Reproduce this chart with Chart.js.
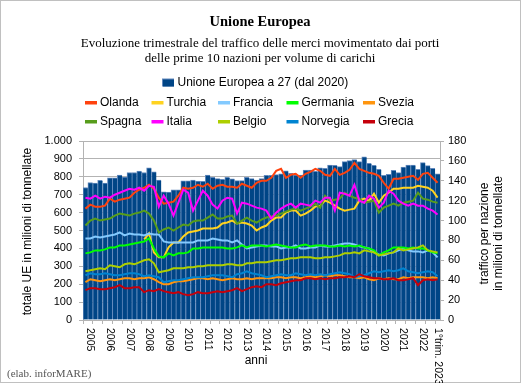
<!DOCTYPE html>
<html>
<head>
<meta charset="utf-8">
<script src="https://cdn.jsdelivr.net/npm/chart.js@4/dist/chart.umd.min.js"></script>
<style>
  html, body { margin: 0; padding: 0; background: #fff; }
  #wrap { width: 521px; height: 383px; position: relative; }
</style>
</head>
<body>
<div id="wrap"><canvas id="c" width="521" height="383"></canvas></div>
<script>
// ---- Data ----
const years = ['2005','2006','2007','2008','2009','2010','2011','2012','2013','2014','2015','2016','2017','2018','2019','2020','2021','2022'];
const lastPeriod = '1°trim. 2023';

// Total EU-27 (left axis, millions of tonnes), quarterly 2005 Q1 .. 2023 Q1
const ueTotal = [740,768,765,780, 765,794,794,809, 798,824,824,832, 824,850,828,781, 716,714,727,727,
  778,778,781,776, 775,810,797,790, 786,797,788,779, 779,797,790,782, 790,808,808,812,
  816,834,819,810, 810,838,838,831, 850,847,866,864, 857,885,890,896, 885,911,875,864,
  842,808,814,836, 823,855,866,866, 842,879,862,847, 817];

// Countries (right axis, millions of tonnes)
const olanda = [112,116,114,114, 115,122,119,121, 122,123,128,131, 133,136,132,123, 117,118,119,125,
  133,132,133,136, 134,137,132,135, 136,134,134,133, 137,135,133,138, 140,140,143,150,
  152,143,146,147, 143,147,149,152, 150,146,145,152, 146,148,151,158, 152,150,148,147,
  145,138,132,142, 142,143,144,145, 141,147,148,143, 138];
const turchia = [null,null,null,null, null,null,null,null, null,null,null,null, 81,87,68,63, 63,73,78,78,
  84,88,89,90, 92,92,92,93, 97,98,100,97, 98,97,95,90, 93,95,100,103,
  103,108,110,110, 105,107,110,114, 115,120,118,115, 112,110,111,112, 120,122,120,127,
  118,125,128,132, 132,133,133,133, 135,134,133,130, 123];
const francia = [82,82,84,83, 84,85,86,88, 85,87,86,86, 85,87,86,86, 79,78,78,78,
  78,78,78,80, 80,80,82,81, 80,80,78,80, 76,72,73,74, 75,75,74,74,
  72,73,73,75, 72,72,73,73, 75,74,74,75, 76,77,77,76, 74,73,72,68,
  66,65,67,68, 70,72,70,69, 69,68,70,68, 63];
const germania = [67,68,70,70, 71,73,73,75, 75,76,77,78, 79,82,72,64, 63,67,65,67,
  67,68,72,72, 73,73,73,73, 73,72,72,73, 75,73,75,75, 75,74,75,76,
  75,74,73,73, 75,76,74,75, 75,75,74,74, 75,74,75,74, 75,73,72,70,
  65,68,70,73, 73,73,72,73, 72,72,70,68, 67];
const svezia = [38,41,40,39, 40,41,40,41, 42,42,41,42, 42,43,41,38, 36,36,38,39,
  39,40,41,42, 42,41,42,41, 40,41,42,41, 41,42,41,42, 42,42,42,43,
  43,42,43,43, 42,43,44,43, 44,45,44,45, 45,44,43,43, 42,43,41,40,
  42,41,42,41, 41,43,42,43, 43,43,42,43, 42];
const spagna = [95,100,102,100, 101,102,105,107, 106,105,107,108, 110,107,100,88, 91,93,90,93,
  96,95,99,100, 100,103,106,102, 102,104,105,97, 100,103,100,98, 101,103,104,105,
  107,109,111,112, 110,112,114,117, 113,125,120,121, 122,128,125,123, 122,118,119,120,
  108,113,115,117, 115,118,119,120, 128,122,121,119, 118];
const italia = [123,122,125,122, 124,123,126,128, 130,132,131,133, 130,135,134,114, 125,117,105,118,
  131,128,110,120, 130,125,116,112, 120,123,122,107, 118,117,115,113, 112,110,102,108,
  112,115,117,113, 117,116,115,120, 118,123,123,110, 128,127,125,136, 120,118,125,122,
  113,118,130,127, 120,117,115,117, 115,115,112,110, 106];
const belgio = [49,50,51,52, 51,55,54,53, 56,57,56,58, 60,61,57,48, 49,50,52,52,
  52,53,53,54, 54,55,55,55, 55,56,56,55, 55,57,57,58, 58,58,59,60,
  60,61,62,62, 63,63,63,62, 62,63,63,64, 65,67,67,68, 67,70,69,68,
  65,66,67,68, 72,70,71,72, 73,75,70,69, 68];
const norvegia = [45,47,46,46, 47,46,45,45, 46,47,47,46, 44,45,44,43, 38,39,40,40,
  41,42,43,43, 43,44,45,45, 45,44,43,46, 47,49,47,46, 45,43,44,45,
  46,45,45,47, 46,45,46,45, 46,45,46,47, 48,47,46,43, 44,45,47,49,
  48,49,50,49, 50,52,49,48, 47,48,49,48, 44];
const grecia = [30,32,32,31, 31,32,33,35, 32,32,33,33, 28,30,29,31, 29,28,27,28,
  26,25,26,28, 27,27,28,29, 28,29,30,32, 29,31,33,34, 33,36,36,35,
  37,38,39,40, 40,42,42,41, 42,41,42,42, 43,43,44,43, 46,44,43,42,
  42,41,41,42, 40,40,41,42, 35,40,41,40, 41];

const leftTicksMax = 1000, leftStep = 100;
const rightTicksMax = 180, rightStep = 20;

// categories: one per quarter
const categories = [];
years.forEach(y => { for (let q = 1; q <= 4; q++) categories.push(y + ' T' + q); });
categories.push('2023 T1');
// displayed tick text (year shown at its 2nd quarter, last period at the end)
const tickText = categories.map((c, i) => {
  if (i === categories.length - 1) return lastPeriod;
  return (i % 4 === 1) ? years[Math.floor(i / 4)] : '';
});

const series = [
  ['Olanda', olanda, '#ff420e'],
  ['Turchia', turchia, '#ffd320'],
  ['Francia', francia, '#83caff'],
  ['Germania', germania, '#00ff00'],
  ['Svezia', svezia, '#ff950e'],
  ['Spagna', spagna, '#579d1c'],
  ['Italia', italia, '#ff00ff'],
  ['Belgio', belgio, '#aecf00'],
  ['Norvegia', norvegia, '#0084d1'],
  ['Grecia', grecia, '#c5000b']
];

const SANS = "'Liberation Sans', Arial, sans-serif";
const SERIF = "'Liberation Serif', 'Times New Roman', serif";
const GRID = '#b3b3b3';

function itNum(v) {
  const s = String(Math.round(v));
  return s.replace(/\B(?=(\d{3})+(?!\d))/g, '.');
}

const datasets = [{
  type: 'bar',
  label: 'Unione Europea a 27 (dal 2020)',
  data: ueTotal,
  yAxisID: 'y',
  backgroundColor: '#004586',
  borderColor: '#6289bd',
  borderWidth: { left: 1, top: 1, right: 0, bottom: 0 },
  borderSkipped: false,
  barPercentage: 1,
  categoryPercentage: 1,
  order: 1
}];
series.forEach((s, k) => datasets.push({
  type: 'line',
  label: s[0],
  data: s[1],
  yAxisID: 'y1',
  borderColor: s[2],
  backgroundColor: s[2],
  borderWidth: 2,
  pointRadius: 0,
  tension: 0,
  fill: false,
  spanGaps: false,
  order: -k - 1
}));

const deco = {
  id: 'deco',
  beforeDraw(chart) {
    const ctx = chart.ctx;
    ctx.save();
    ctx.fillStyle = '#fff';
    ctx.fillRect(0, 0, chart.width, chart.height);
    ctx.restore();
  },
  afterDraw(chart) {
    const ctx = chart.ctx;
    const area = chart.chartArea;
    const xs = chart.scales.x;
    ctx.save();
    // outer border
    ctx.strokeStyle = '#c0c0c0';
    ctx.lineWidth = 1;
    ctx.strokeRect(0.5, 0.5, chart.width - 1, chart.height - 1);

    // titles
    ctx.fillStyle = '#000';
    ctx.textAlign = 'center';
    ctx.textBaseline = 'alphabetic';
    ctx.font = 'bold 14.5px ' + SERIF;
    ctx.fillText('Unione Europea', 260, 26);
    ctx.font = '13px ' + SERIF;
    ctx.fillText('Evoluzione trimestrale del traffico delle merci movimentato dai porti', 260, 46.5);
    ctx.fillText('delle prime 10 nazioni per volume di carichi', 260, 61.5);

    // legend
    const ds = chart.data.datasets;
    ctx.font = '12px ' + SANS;
    ctx.textAlign = 'left';
    ctx.textBaseline = 'middle';
    ctx.fillStyle = '#6289bd';
    ctx.fillRect(162, 78.5, 12, 8);
    ctx.fillStyle = ds[0].backgroundColor;
    ctx.fillRect(163, 79.5, 11, 7);
    ctx.fillStyle = '#000';
    ctx.fillText(ds[0].label, 177.5, 83);
    const cols = [85, 151.5, 218, 286.5, 363];
    const rowsY = [102.5, 121.5];
    for (let k = 1; k < ds.length; k++) {
      const r = Math.floor((k - 1) / 5), c = (k - 1) % 5;
      const lx = cols[c], ly = rowsY[r];
      ctx.fillStyle = ds[k].borderColor;
      ctx.fillRect(lx, ly - 1.5, 12, 3.5);
      ctx.fillStyle = '#000';
      ctx.fillText(ds[k].label, lx + 15, ly);
    }

    // x tick labels, rotated clockwise
    ctx.font = '10.5px ' + SANS;
    ctx.textAlign = 'left';
    ctx.textBaseline = 'middle';
    ctx.fillStyle = '#000';
    tickText.forEach((t, i) => {
      if (!t) return;
      const px = xs.getPixelForValue(i);
      ctx.save();
      ctx.translate(px, area.bottom + 8);
      ctx.rotate(Math.PI / 2);
      ctx.fillText(t, 0, 0);
      ctx.restore();
    });

    // axis titles
    ctx.font = '12px ' + SANS;
    ctx.textAlign = 'center';
    ctx.textBaseline = 'middle';
    ctx.fillText('anni', 256, 361);
    const midY = (area.top + area.bottom) / 2;
    ctx.save();
    ctx.translate(28, midY + 1);
    ctx.rotate(-Math.PI / 2);
    ctx.fillText('totale UE in milioni di tonnellate', 0, 0);
    ctx.restore();
    ctx.save();
    ctx.translate(485, midY + 3);
    ctx.rotate(-Math.PI / 2);
    ctx.fillText('traffico per nazione', 0, 0);
    ctx.restore();
    ctx.save();
    ctx.translate(498.5, midY + 3);
    ctx.rotate(-Math.PI / 2);
    ctx.fillText('in milioni di tonnellate', 0, 0);
    ctx.restore();

    // credit
    ctx.font = '11px ' + SERIF;
    ctx.fillStyle = '#555';
    ctx.textAlign = 'left';
    ctx.textBaseline = 'alphabetic';
    ctx.fillText('(elab. inforMARE)', 7, 377);
    ctx.restore();
  }
};

new Chart(document.getElementById('c'), {
  data: { labels: categories, datasets },
  options: {
    responsive: false,
    animation: false,
    devicePixelRatio: 1,
    layout: { padding: { top: 141, left: 0, right: 0, bottom: 0 } },
    plugins: { legend: { display: false }, title: { display: false }, tooltip: { enabled: false } },
    scales: {
      x: {
        type: 'category',
        offset: true,
        afterFit: s => { s.height = 63; },
        ticks: { display: false, autoSkip: false },
        grid: {
          offset: true,
          drawOnChartArea: false,
          drawTicks: true,
          tickLength: 4,
          color: ctx => (ctx.index % 2 === 0 ? GRID : 'rgba(0,0,0,0)')
        },
        border: { color: GRID }
      },
      y: {
        position: 'left',
        min: 0, max: leftTicksMax,
        afterFit: s => { s.width = 83; },
        ticks: { stepSize: leftStep, padding: 7, color: '#000', font: { family: SANS, size: 11 }, callback: v => itNum(v) },
        grid: { color: GRID, tickLength: 4 },
        border: { color: GRID }
      },
      y1: {
        position: 'right',
        min: 0, max: rightTicksMax,
        afterFit: s => { s.width = 81; },
        ticks: { stepSize: rightStep, padding: 4, color: '#000', font: { family: SANS, size: 11 } },
        grid: { drawOnChartArea: false, color: GRID, tickLength: 4 },
        border: { color: GRID }
      }
    }
  },
  plugins: [deco]
});
</script>
</body>
</html>
